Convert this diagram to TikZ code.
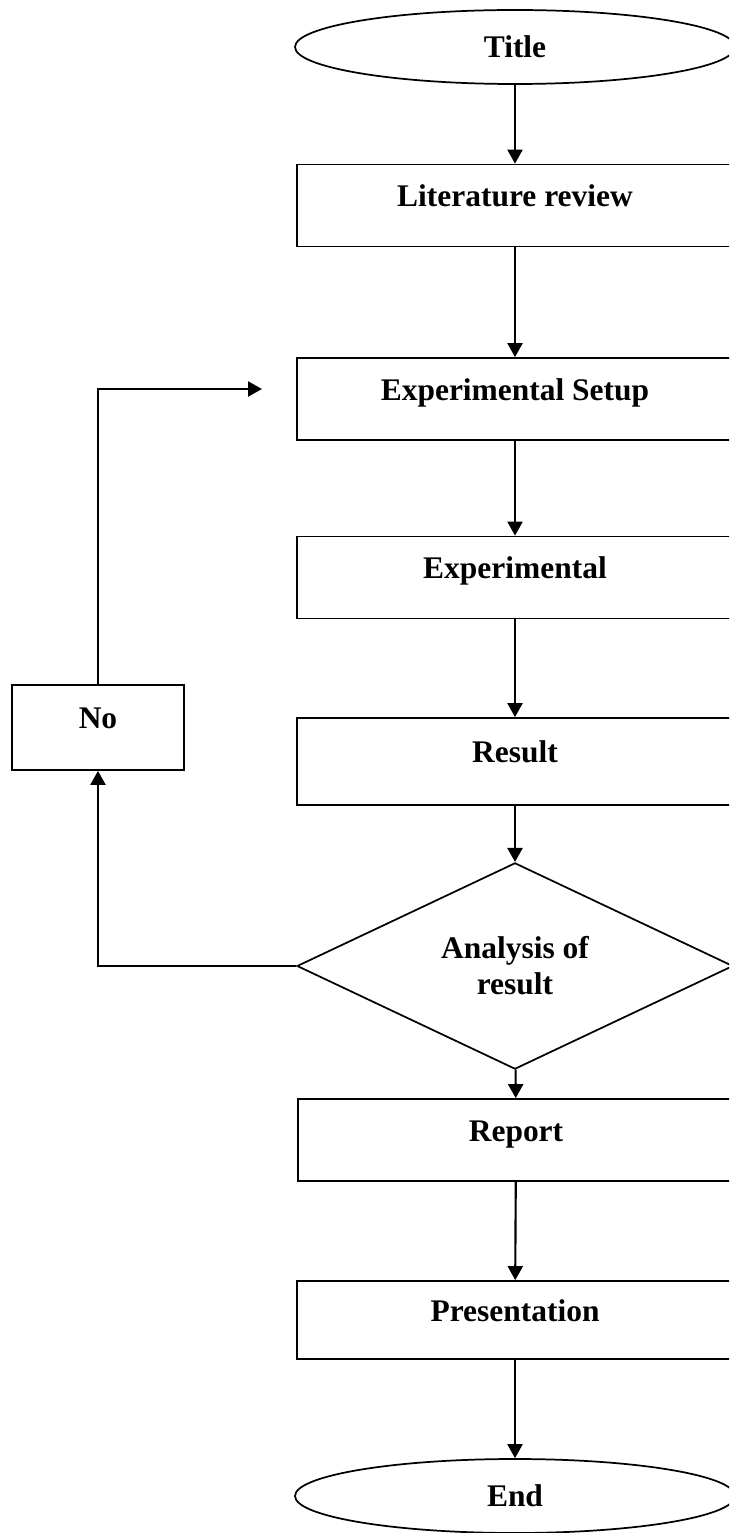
\documentclass[tikz,border=0pt]{standalone}
\usepackage{fontspec}
\setmainfont{Liberation Serif}
\usetikzlibrary{shapes.geometric,arrows.meta}

\begin{document}
\begin{tikzpicture}[x=0.75pt,y=0.75pt,yscale=-1,xscale=1,
        every node/.style={font=\fontsize{23.6}{27}\selectfont\bfseries},
        procbox/.style={draw,line width=1.3pt,rectangle,minimum width=327pt,minimum height=61.5pt,text height=16pt,text depth=14pt},
        termnode/.style={draw,line width=1.3pt,ellipse,minimum width=330pt,minimum height=55.5pt,inner sep=0pt},
        decide/.style={draw,line width=1.3pt,diamond,minimum width=327pt,minimum height=121.5pt,inner sep=0pt,align=center},
        flow/.style={line width=1.6pt,-{Triangle[length=10.5pt,width=11.25pt]}}]
        \useasboundingbox (0,0) rectangle (729,1533);
        \clip (0,0) rectangle (729,1533);

        %Shape: Ellipse
        \node [termnode] (title) at (515,47) {Title};
        %Shape: Rectangle
        \node [procbox] (litreview) at (515,205.5) {Literature review};
        %Shape: Rectangle
        \node [procbox] (expsetup) at (515,399) {Experimental Setup};
        %Shape: Rectangle
        \node [procbox] (experiment) at (515,577.5) {Experimental};
        %Shape: Rectangle
        \node [procbox,minimum height=65.25pt] (result) at (515,761.5) {Result};
        %Shape: Diamond
        \node [decide] (analysis) at (515,966) {Analysis of\\result};
        %Shape: Rectangle
        \node [procbox] (report) at (516,1140) {Report};
        %Shape: Rectangle
        \node [procbox,minimum height=58.5pt] (presentation) at (515,1320) {Presentation};
        %Shape: Ellipse
        \node [termnode] (finish) at (515,1496) {End};
        %Shape: Rectangle
        \node [procbox,minimum width=129pt,minimum height=63.75pt] (nobox) at (98,727.5) {No};

        %Straight Lines
        \draw [flow] (title) -- (litreview);
        \draw [flow] (litreview) -- (expsetup);
        \draw [flow] (expsetup) -- (experiment);
        \draw [flow] (experiment) -- (result);
        \draw [flow] (result) -- (analysis);
        \draw [flow] (analysis) -- (report);
        \draw [flow] (report) -- (presentation);
        \draw [flow] (presentation) -- (finish);

        %Loop back
        \coordinate (loopend) at (262,389);
        \draw [flow] (analysis.west) -| (nobox.south);
        \draw [flow] (nobox.north) |- (loopend);

    \end{tikzpicture}
\end{document}
